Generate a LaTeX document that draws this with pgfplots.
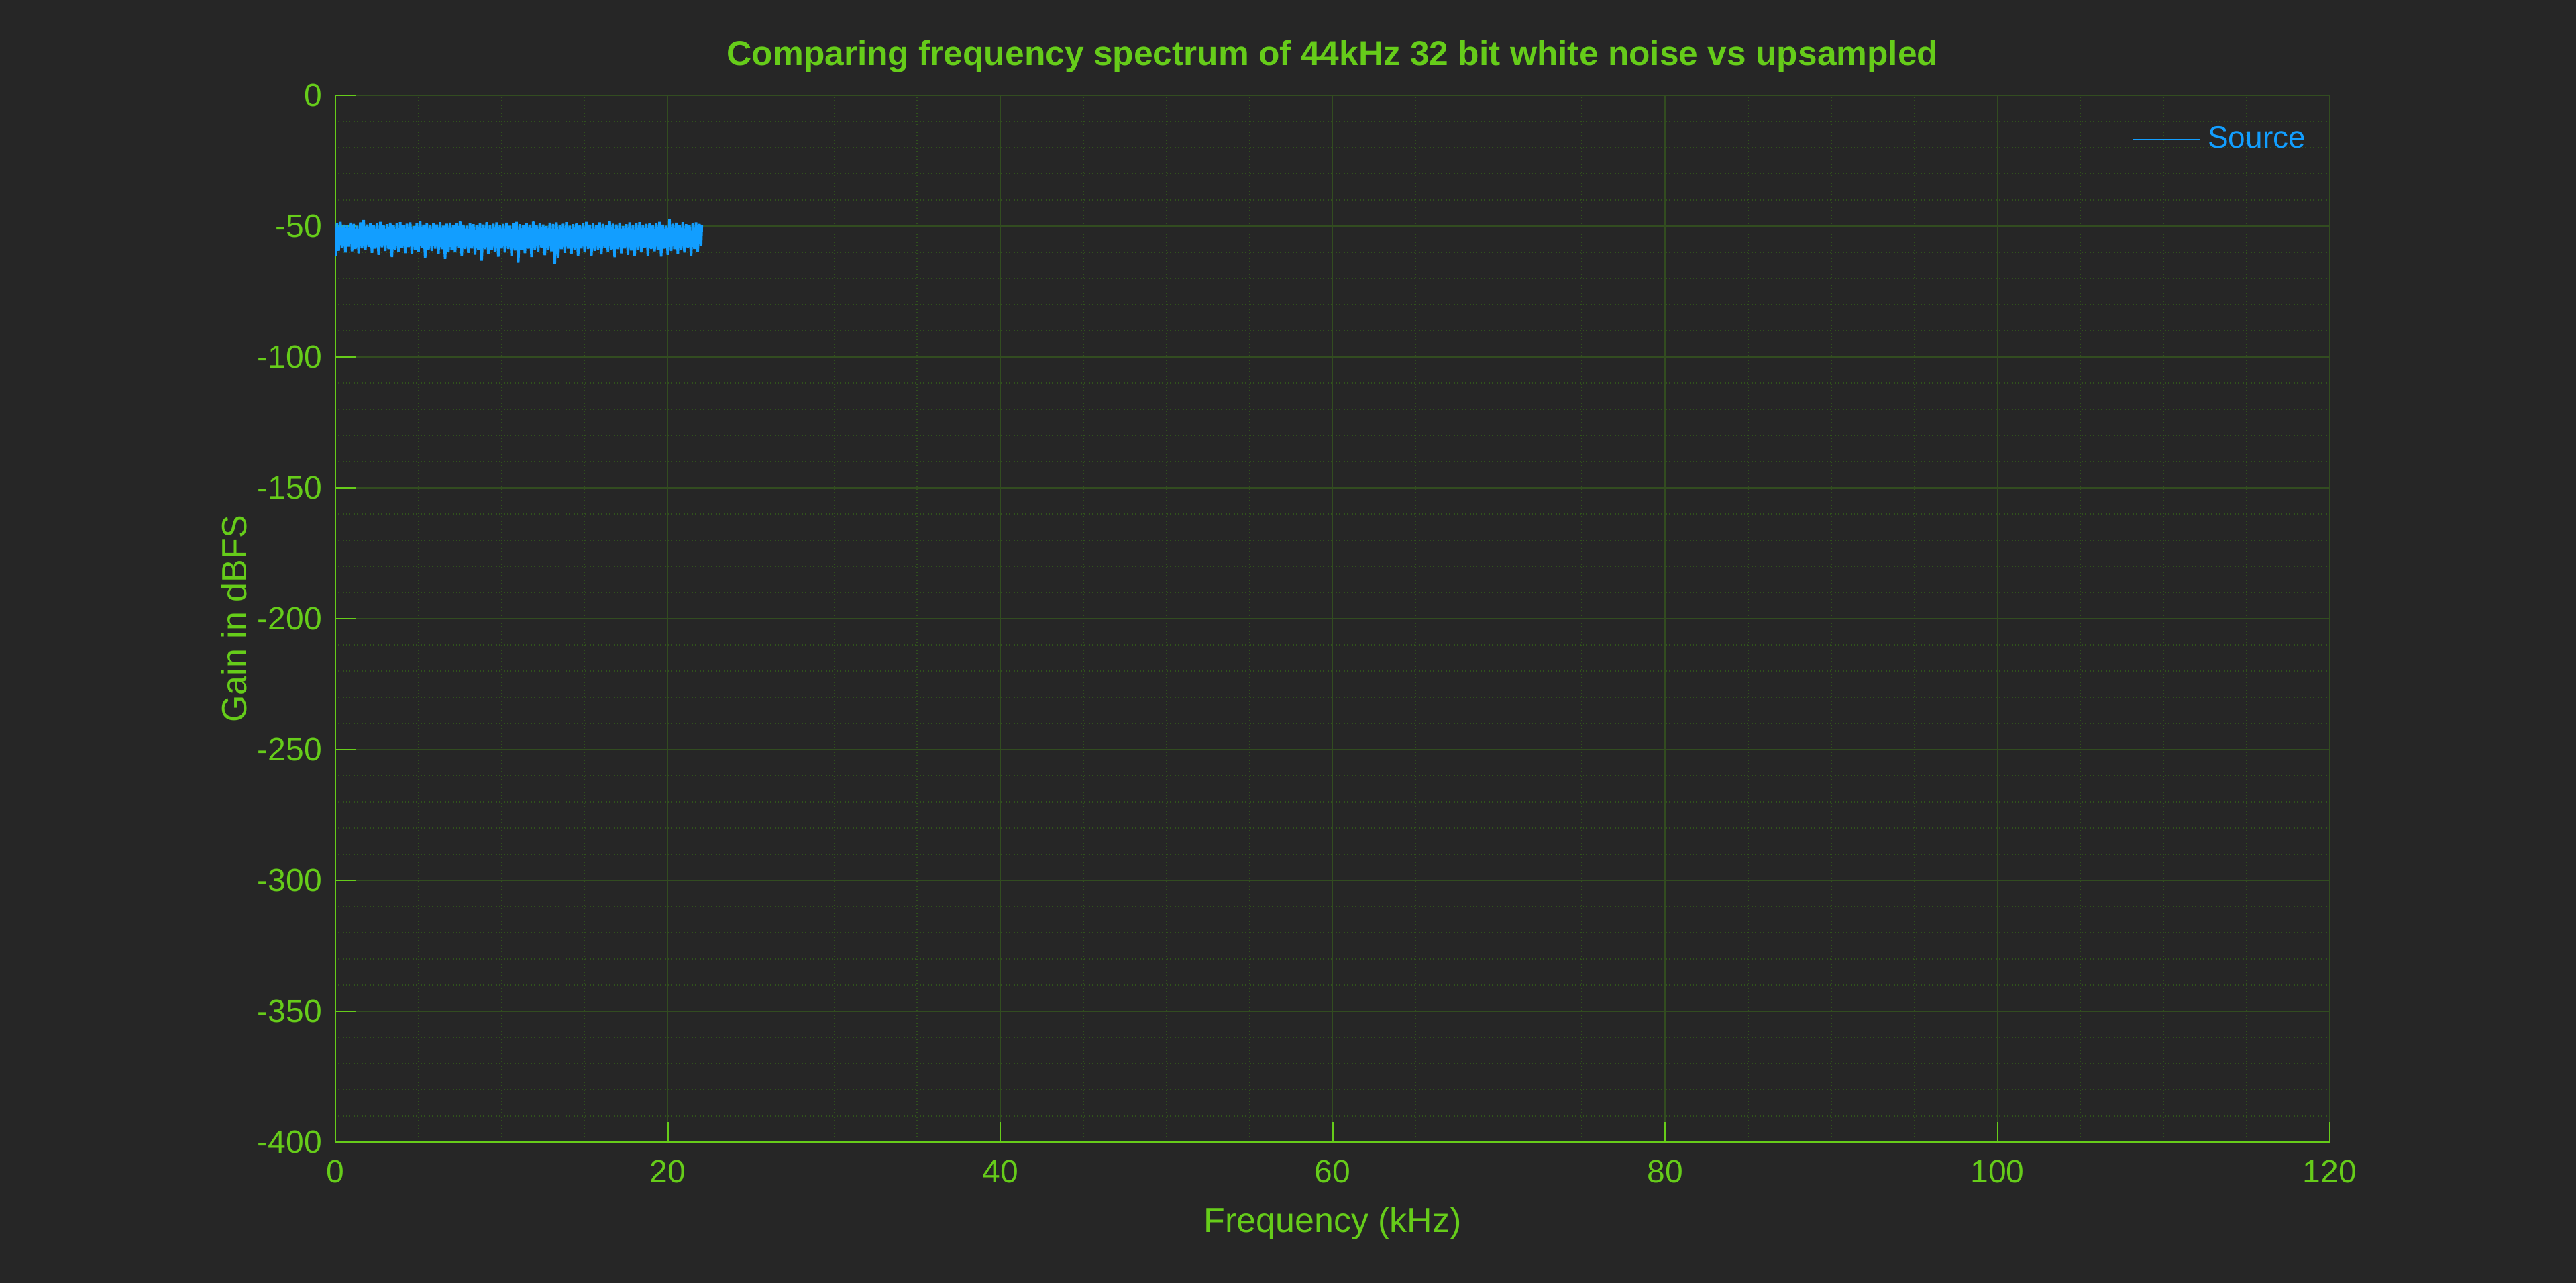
\documentclass[border=0pt]{standalone}
\usepackage{fontspec}
\setmainfont{Liberation Sans}
\usepackage{pgfplots}
\pgfplotsset{compat=1.18}
\usetikzlibrary{backgrounds}

\definecolor{bgc}{RGB}{38,38,38}
\definecolor{fg}{RGB}{102,204,26}
\definecolor{srcblue}{RGB}{18,158,255}
\definecolor{gridmaj}{RGB}{50,76,32}
\definecolor{gridmin}{RGB}{48,82,28}

\begin{document}
\begin{tikzpicture}
\begin{axis}[
    name=ax,
    scale only axis,
    width=594.6pt, height=312pt,
    xmin=0, xmax=120, ymin=-400, ymax=0,
    xtick={0,20,...,120},
    ytick={-400,-350,...,0},
    minor x tick num=3,
    minor y tick num=4,
    axis x line*=bottom,
    axis y line*=left,
    axis line style={fg, line width=0.4pt},
    tick style={fg, line width=0.4pt},
    tick align=inside,
    major tick length=5.9pt,
    minor tick length=0pt,
    grid=both,
    major grid style={gridmaj, line width=0.25pt},
    minor grid style={gridmin, line width=0.3pt, dash pattern=on 0.25pt off 0.55pt},
    /pgf/number format/assume math mode=true,
    ticklabel style={font=\fontsize{9.6}{11}\selectfont, text=fg},
    xticklabel style={yshift=-1.8pt},
    yticklabel style={xshift=-0.5pt},
    title={Comparing frequency spectrum of 44kHz 32 bit white noise vs upsampled},
    title style={font=\bfseries\fontsize{10.3}{12}\selectfont, text=fg,
        at={(axis description cs:0.5,1.0096)}, anchor=base},
    xlabel={Frequency (kHz)},
    ylabel={Gain in dBFS},
    xlabel style={font=\fontsize{10.4}{12}\selectfont, text=fg,
        at={(axis description cs:0.5,-0.0865)}, anchor=base},
    ylabel style={font=\fontsize{10.4}{12}\selectfont, text=fg,
        at={(axis description cs:-0.0444,0.5)}, anchor=base, rotate=0},
    legend style={draw=none, fill=none, at={(1,1)}, anchor=north east,
        xshift=-2pt, yshift=-5pt, font=\fontsize{9.2}{10}\selectfont},
    legend cell align=left,
    legend image code/.code={\draw[srcblue, line width=0.45pt] (0pt,0pt) -- (20pt,0pt);},
]

% source spectrum, 0 - 22.05 kHz (noise band)
\addplot[color=srcblue, line width=0.75pt] coordinates {
(0.0,-61.5) (0.1,-48.9) (0.2,-59.4) (0.3,-48.4) (0.4,-58.3) (0.5,-49.5) (0.6,-60.1) (0.7,-49.8) (0.8,-57.8) (0.9,-48.7)
(1.0,-59.6) (1.1,-49.2) (1.2,-58.7) (1.3,-49.9) (1.4,-60.4) (1.5,-48.6) (1.6,-58.5) (1.7,-47.7) (1.8,-59.2) (1.9,-49.4)
(2.0,-57.9) (2.1,-48.8) (2.2,-60.2) (2.3,-49.6) (2.4,-58.6) (2.5,-49.0) (2.6,-61.0) (2.7,-48.4) (2.8,-58.1) (2.9,-49.8)
(3.0,-59.5) (3.1,-49.3) (3.2,-58.8) (3.3,-48.7) (3.4,-61.8) (3.5,-49.7) (3.6,-59.0) (3.7,-48.9) (3.8,-59.8) (3.9,-48.5)
(4.0,-58.3) (4.1,-49.8) (4.2,-60.3) (4.3,-49.1) (4.4,-58.0) (4.5,-48.6) (4.6,-60.7) (4.7,-50.0) (4.8,-58.9) (4.9,-48.8)
(5.0,-59.9) (5.1,-48.3) (5.2,-58.4) (5.3,-49.5) (5.4,-62.1) (5.5,-48.9) (5.6,-59.1) (5.7,-49.6) (5.8,-59.5) (5.9,-48.8)
(6.0,-58.6) (6.1,-49.4) (6.2,-60.5) (6.3,-48.5) (6.4,-58.8) (6.5,-49.9) (6.6,-62.5) (6.7,-49.1) (6.8,-59.7) (6.9,-48.7)
(7.0,-59.2) (7.1,-49.7) (7.2,-60.0) (7.3,-49.0) (7.4,-58.3) (7.5,-48.2) (7.6,-61.3) (7.7,-49.5) (7.8,-58.7) (7.9,-49.9)
(8.0,-60.2) (8.1,-48.8) (8.2,-58.5) (8.3,-49.3) (8.4,-60.9) (8.5,-49.6) (8.6,-58.9) (8.7,-48.9) (8.8,-63.2) (8.9,-49.4)
(9.0,-58.8) (9.1,-48.5) (9.2,-60.6) (9.3,-49.8) (9.4,-59.1) (9.5,-49.1) (9.6,-59.8) (9.7,-48.6) (9.8,-61.7) (9.9,-49.7)
(10.0,-58.5) (10.1,-49.2) (10.2,-60.1) (10.3,-48.7) (10.4,-58.7) (10.5,-49.9) (10.6,-61.4) (10.7,-49.0) (10.8,-59.3) (10.9,-48.4)
(11.0,-64.0) (11.1,-49.3) (11.2,-59.0) (11.3,-49.6) (11.4,-60.3) (11.5,-48.8) (11.6,-58.6) (11.7,-49.5) (11.8,-61.8) (11.9,-48.3)
(12.0,-58.9) (12.1,-49.8) (12.2,-59.9) (12.3,-48.9) (12.4,-58.2) (12.5,-49.4) (12.6,-61.1) (12.7,-50.0) (12.8,-59.2) (12.9,-48.7)
(13.0,-59.6) (13.1,-49.2) (13.2,-64.6) (13.3,-48.6) (13.4,-62.0) (13.5,-49.7) (13.6,-58.8) (13.7,-49.1) (13.8,-60.2) (13.9,-48.5)
(14.0,-58.6) (14.1,-49.9) (14.2,-60.7) (14.3,-49.3) (14.4,-59.0) (14.5,-48.8) (14.6,-61.5) (14.7,-49.6) (14.8,-58.5) (14.9,-49.0)
(15.0,-60.0) (15.1,-48.4) (15.2,-58.7) (15.3,-49.5) (15.4,-61.5) (15.5,-48.9) (15.6,-59.4) (15.7,-49.8) (15.8,-58.9) (15.9,-48.6)
(16.0,-60.8) (16.1,-49.2) (16.2,-58.4) (16.3,-49.7) (16.4,-59.7) (16.5,-48.3) (16.6,-59.1) (16.7,-49.1) (16.8,-61.9) (16.9,-49.4)
(17.0,-58.8) (17.1,-48.7) (17.2,-60.4) (17.3,-50.0) (17.4,-58.5) (17.5,-49.3) (17.6,-61.0) (17.7,-48.6) (17.8,-59.3) (17.9,-49.6)
(18.0,-61.4) (18.1,-49.0) (18.2,-59.0) (18.3,-48.5) (18.4,-60.0) (18.5,-49.8) (18.6,-58.3) (18.7,-49.2) (18.8,-61.2) (18.9,-48.8)
(19.0,-58.7) (19.1,-49.6) (19.2,-59.6) (19.3,-48.9) (19.4,-59.1) (19.5,-48.4) (19.6,-61.6) (19.7,-49.5) (19.8,-58.6) (19.9,-49.9)
(20.0,-61.0) (20.1,-47.5) (20.2,-59.5) (20.3,-49.1) (20.4,-58.8) (20.5,-48.7) (20.6,-60.5) (20.7,-49.7) (20.8,-59.0) (20.9,-48.5)
(21.0,-60.1) (21.1,-49.3) (21.2,-58.4) (21.3,-49.8) (21.4,-61.3) (21.5,-49.0) (21.6,-58.7) (21.7,-48.6) (21.8,-59.7) (21.9,-49.2)
(22.0,-57.5) (22.05,-49.5)
};
\addlegendentry{\textcolor{srcblue}{Source}}

\end{axis}
\begin{scope}[on background layer]
\fill[bgc] ([xshift=-100pt,yshift=-42pt]ax.south west) rectangle ([xshift=73.4pt,yshift=28.4pt]ax.north east);
\end{scope}
\pgfresetboundingbox
\path[use as bounding box] ([xshift=-100pt,yshift=-42pt]ax.south west) rectangle ([xshift=73.4pt,yshift=28.4pt]ax.north east);
\end{tikzpicture}
\end{document}
